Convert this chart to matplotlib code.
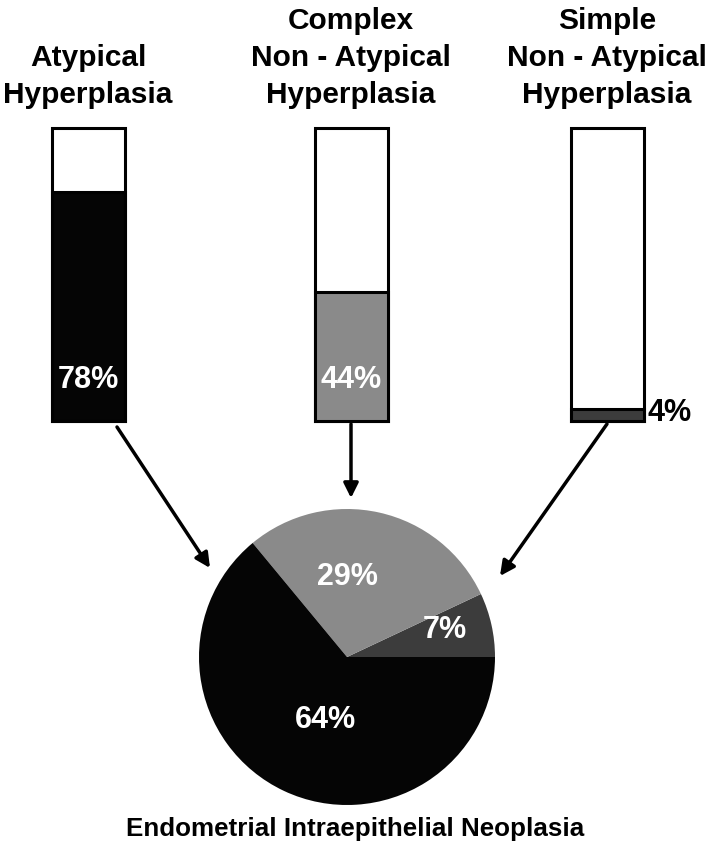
import matplotlib.pyplot as plt
import matplotlib as mpl

mpl.rcParams['font.family'] = ['Liberation Sans', 'DejaVu Sans']

# data
bar_labels = ['Atypical\nHyperplasia',
              'Complex\nNon - Atypical\nHyperplasia',
              'Simple\nNon - Atypical\nHyperplasia']
bar_pct = [78, 44, 4]
bar_colors = ['#050505', '#8a8a8a', '#3c3c3c']

pie_pct = [7, 29, 64]
pie_colors = ['#3c3c3c', '#8a8a8a', '#050505']
pie_title = 'Endometrial Intraepithelial Neoplasia'

# layout in pixel-like units (origin bottom left)
W, H = 709, 855
bar_x = [88, 351, 607]
bar_w = 73
bar_bottom = 434
bar_h = 293
pie_center = (347, 198)
pie_r = 148

fig = plt.figure(figsize=(W / 100, H / 100), dpi=100)
ax = fig.add_axes([0, 0, 1, 1])

# white full-height bars, then the filled part
ax.bar(bar_x, [bar_h] * 3, bottom=bar_bottom, width=bar_w,
       color='white', edgecolor='black', linewidth=2.2, zorder=1)
fill_h = [p / 100 * bar_h for p in bar_pct]
ax.bar(bar_x, fill_h, bottom=bar_bottom, width=bar_w,
       color=bar_colors, edgecolor='black', linewidth=2.2, zorder=2)

for x, lab in zip(bar_x, bar_labels):
    ax.text(x, 746, lab, ha='center', va='bottom', fontsize=21.5,
            fontweight='bold', linespacing=1.4)

# percent labels on bars
ax.text(bar_x[0], 855 - 380, '%d%%' % bar_pct[0], ha='center', va='center',
        color='white', fontsize=22, fontweight='bold', zorder=3)
ax.text(bar_x[1], 855 - 380, '%d%%' % bar_pct[1], ha='center', va='center',
        color='white', fontsize=22, fontweight='bold', zorder=3)
ax.text(bar_x[2] + bar_w / 2 + 4, 855 - 413, '%d%%' % bar_pct[2], ha='left',
        va='center', color='black', fontsize=22, fontweight='bold', zorder=3)

# pie
wedges, _ = ax.pie(pie_pct, colors=pie_colors, startangle=0, counterclock=True,
                   center=pie_center, radius=pie_r, frame=True,
                   wedgeprops=dict(linewidth=0))

ax.text(445, 855 - 630, '%d%%' % pie_pct[0], ha='center', va='center',
        color='white', fontsize=22, fontweight='bold')
ax.text(347, 855 - 577, '%d%%' % pie_pct[1], ha='center', va='center',
        color='white', fontsize=22, fontweight='bold')
ax.text(325, 855 - 720, '%d%%' % pie_pct[2], ha='center', va='center',
        color='white', fontsize=22, fontweight='bold')

ax.text(355, 855 - 829, pie_title, ha='center', va='center', fontsize=18.7,
        fontweight='bold')

# arrows
arrow_kw = dict(arrowstyle='-|>', lw=2.5, color='black', mutation_scale=22,
                shrinkA=0, shrinkB=0)
ax.annotate('', xy=(210, 855 - 568), xytext=(117, 855 - 427), arrowprops=arrow_kw)
ax.annotate('', xy=(351, 855 - 498), xytext=(351, 855 - 424), arrowprops=arrow_kw)
ax.annotate('', xy=(500, 855 - 576), xytext=(607, 855 - 424), arrowprops=arrow_kw)

ax.set_xlim(0, W)
ax.set_ylim(0, H)
ax.set_aspect('equal')
ax.axis('off')

fig.savefig('out.png', dpi=100, facecolor='white')
